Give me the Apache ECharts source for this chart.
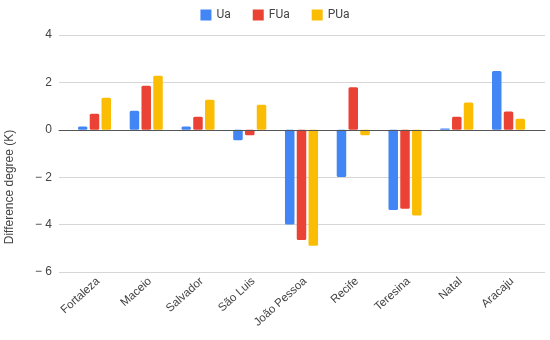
<!DOCTYPE html>
<html><head><meta charset="utf-8">
<script src="https://cdn.jsdelivr.net/npm/echarts@6/dist/echarts.min.js"></script>
<style>html,body{margin:0;padding:0;background:#fff}#c{width:550px;height:340px}</style>
</head><body><div id="c"></div>
<script>
const categories = ['Fortaleza','Maceio','Salvador','São Luis','João Pessoa','Recife','Teresina','Natal','Aracaju'];
const seriesNames = ['Ua','FUa','PUa'];
const ua  = [0.14, 0.80, 0.14, -0.44, -4.00, -1.99, -3.38, 0.05, 2.48];
const fua = [0.68, 1.86, 0.55, -0.23, -4.65, 1.80, -3.33, 0.55, 0.77];
const pua = [1.35, 2.28, 1.27, 1.06, -4.89, -0.23, -3.62, 1.15, 0.47];
const yTicks = [-6, -4, -2, 0, 2, 4];
const colors = ['#4285F4', '#EA4335', '#FBBC04'];

const chart = echarts.init(document.getElementById('c'));
const yMin = yTicks[0], yMax = yTicks[yTicks.length-1];
const barData = [ua, fua, pua];
chart.setOption({
  animation: false,
  color: colors,
  legend: {
    top: 4, left: 'center', itemWidth: 11, itemHeight: 11, itemGap: 22,
    icon: 'rect',
    textStyle: { color: '#444', fontSize: 12, fontFamily: 'Roboto' },
    data: seriesNames
  },
  grid: [
    { left: 59, right: 5, top: 35, bottom: 68 },
    { left: 68.6, right: 15.6, top: 35, bottom: 68 }
  ],
  xAxis: [
    { gridIndex: 0, type: 'value', min: 0, max: 1, axisLabel: { show: false }, axisTick: { show: false }, splitLine: { show: false },
      axisLine: { show: true, onZero: true, lineStyle: { color: '#555', width: 1 } }, z: 10 },
    { gridIndex: 1, type: 'category', data: categories,
      axisLine: { show: false }, axisTick: { show: false },
      axisLabel: { rotate: 42, margin: 11, padding: [0, -5, 0, 0], color: '#444', fontSize: 11.5, fontFamily: 'Liberation Sans', interval: 0 } }
  ],
  yAxis: [
    { gridIndex: 0, type: 'value', min: yMin, max: yMax, interval: 2,
      axisLine: { show: false }, axisTick: { show: false },
      splitLine: { lineStyle: { color: '#d6d6d6', width: 1.2 } },
      axisLabel: { color: '#444', fontSize: 12, margin: 7, fontFamily: 'Liberation Sans Narrow, Liberation Sans',
        formatter: v => v < 0 ? '\u2212 ' + Math.abs(v) : String(v) } },
    { gridIndex: 1, type: 'value', min: yMin, max: yMax, interval: 2, show: false, splitLine: { show: false } }
  ],
  graphic: [{
    type: 'text', x: 4, y: 187, rotation: Math.PI / 2,
    style: { text: 'Difference degree (K)', fill: '#444', fontSize: 12, fontFamily: 'Liberation Sans', align: 'center', verticalAlign: 'top' }
  }],
  series: seriesNames.map((n, i) => ({
    name: n, type: 'bar', xAxisIndex: 1, yAxisIndex: 1,
    data: barData[i], barWidth: 9.5, barGap: '24%',
    itemStyle: { color: colors[i], borderRadius: 1.5 }
  }))
});
</script></body></html>
